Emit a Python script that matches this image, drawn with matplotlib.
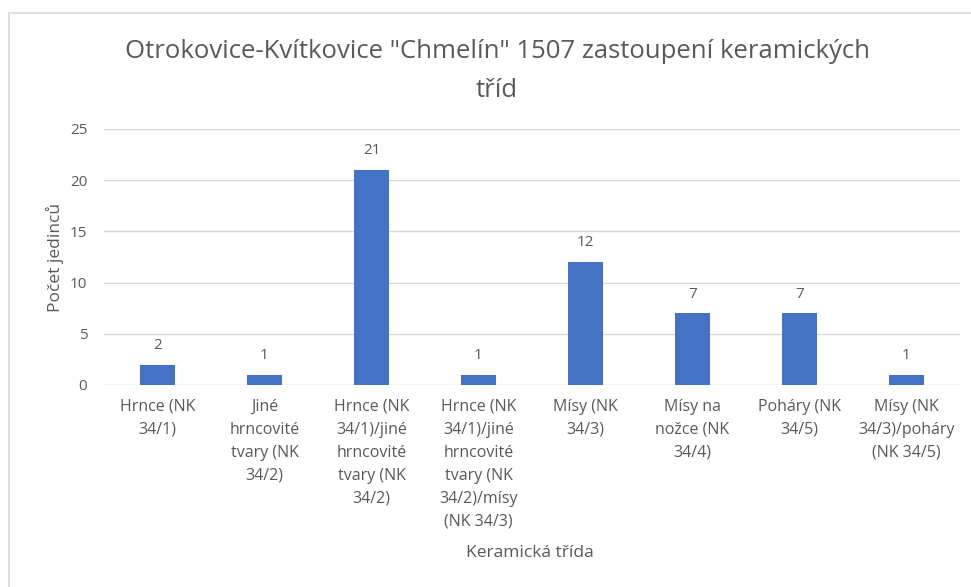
import matplotlib
matplotlib.use('Agg')
import matplotlib.pyplot as plt
from matplotlib.patches import Rectangle

# data
categories = [
    'Hrnce (NK\n34/1)',
    'Jiné\nhrncovité\ntvary (NK\n34/2)',
    'Hrnce (NK\n34/1)/jiné\nhrncovité\ntvary (NK\n34/2)',
    'Hrnce (NK\n34/1)/jiné\nhrncovité\ntvary (NK\n34/2)/mísy\n(NK 34/3)',
    'Mísy (NK\n34/3)',
    'Mísy na\nnožce (NK\n34/4)',
    'Poháry (NK\n34/5)',
    'Mísy (NK\n34/3)/poháry\n(NK 34/5)',
]
counts = [2, 1, 21, 1, 12, 7, 7, 1]
y_ticks = [0, 5, 10, 15, 20, 25]

title = 'Otrokovice-Kvítkovice "Chmelín" 1507 zastoupení keramických\ntříd'
x_title = 'Keramická třída'
y_title = 'Počet jedinců'

TEXT = '#595959'
BAR = '#4472C4'
GRID = '#D9D9D9'

plt.rcParams['font.family'] = ['Open Sans', 'DejaVu Sans']

fig = plt.figure(figsize=(9.71, 5.87), dpi=100)
# light frame of the chart area
fig.patches.append(Rectangle((9 / 971, -0.01), 1.0, 1 - 13 / 587 + 0.01,
                             transform=fig.transFigure, fill=False,
                             edgecolor='#D9D9D9', linewidth=1.2))

ax = fig.add_axes([104 / 971, 1 - 385 / 587, (960 - 104) / 971, (385 - 129) / 587])
x = range(len(categories))
ax.bar(x, counts, width=0.32, color=BAR, zorder=3)
for xi, v in zip(x, counts):
    ax.annotate(str(v), (xi, v), xytext=(0, 8.5), textcoords='offset points',
                ha='center', va='bottom', fontsize=11, color=TEXT)

ax.set_xlim(-0.5, len(categories) - 0.5)
ax.set_ylim(0, 25)
ax.set_yticks(y_ticks)
ax.set_xticks(list(x))
ax.set_xticklabels(categories, fontsize=11.5, color=TEXT, linespacing=1.58)
ax.tick_params(axis='y', labelsize=11, labelcolor=TEXT, length=0, pad=12)
ax.tick_params(axis='x', length=0, pad=10)
ax.grid(axis='y', color=GRID, linewidth=1, zorder=0)
for s in ax.spines.values():
    s.set_visible(False)

ax.set_ylabel(y_title, fontsize=12.5, color=TEXT, labelpad=4)
fig.text(530 / 971, 1 - 553 / 587, x_title, ha='center', va='center',
         fontsize=12.5, color=TEXT)
fig.text(497 / 971, 1 - 71 / 587, title, ha='center', va='center',
         fontsize=18.5, color=TEXT, linespacing=1.7)

plt.savefig('out.png', dpi=100)
